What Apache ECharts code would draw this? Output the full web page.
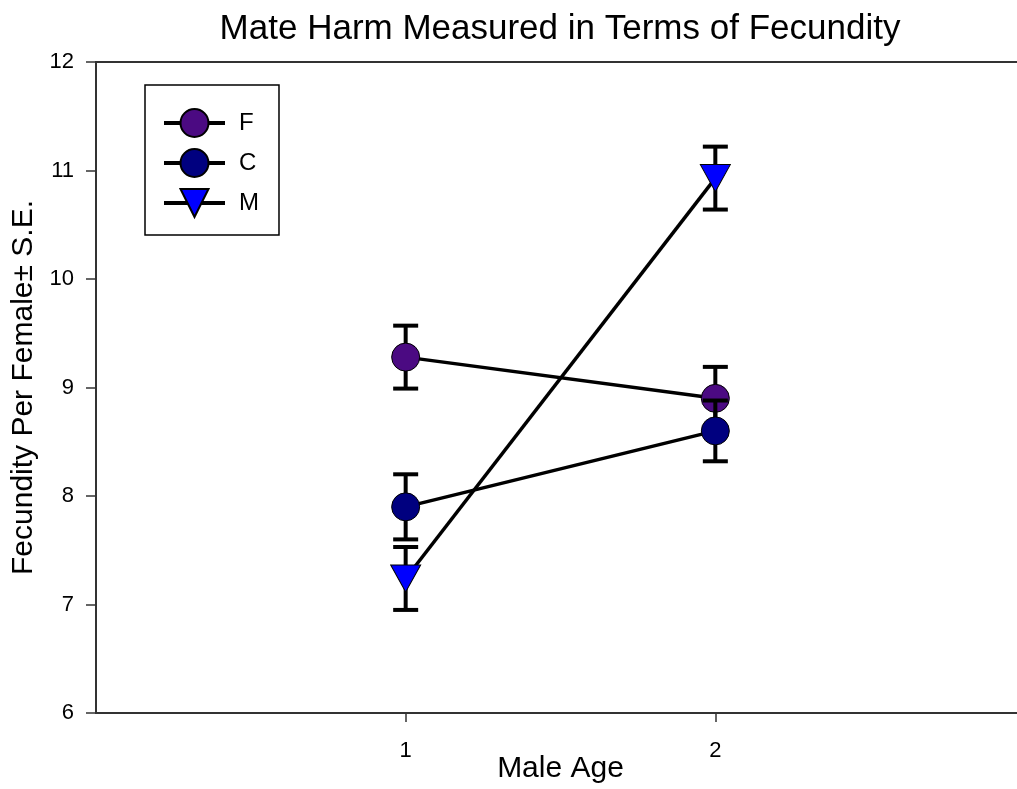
<!DOCTYPE html>
<html>
<head>
<meta charset="utf-8">
<script src="https://cdn.jsdelivr.net/npm/echarts@6/dist/echarts.min.js"></script>
<style>
html,body{margin:0;padding:0;background:#fff;}
#chart{width:1017px;height:789px;}
</style>
</head>
<body>
<div id="chart"></div>
<script>
// ---- data ----
const maleAge = [1, 2];
const groupNames = ['F', 'C', 'M'];
const fMean = [9.28, 8.90];
const fSE = [0.29, 0.29];
const cMean = [7.90, 8.60];
const cSE = [0.30, 0.28];
const mMean = [7.24, 10.93];
const mSE = [0.29, 0.29];
const yTicks = [6, 7, 8, 9, 10, 11, 12];
const xTicks = [1, 2];

const FONT = '"Liberation Sans", Arial, sans-serif';
const colors = {F: '#4B0A82', C: '#00007F', M: '#0000FF'};
const downTriangle = 'path://M0,0 L10,0 L5,9 Z';

function errData(means, ses) {
  return maleAge.map((x, i) => [x, means[i] - ses[i], means[i] + ses[i]]);
}
function lineData(means) {
  return maleAge.map((x, i) => [x, means[i]]);
}
function errSeries(name, means, ses, z) {
  return {
    type: 'custom',
    name: name + ' SE',
    z: z,
    silent: true,
    data: errData(means, ses),
    renderItem: function (params, api) {
      const x = api.value(0);
      const lo = api.coord([x, api.value(1)]);
      const hi = api.coord([x, api.value(2)]);
      const hw = 12.5;
      const st = {stroke: '#000', lineWidth: 4};
      return {
        type: 'group',
        children: [
          {type: 'line', shape: {x1: lo[0], y1: lo[1], x2: hi[0], y2: hi[1]}, style: st},
          {type: 'line', shape: {x1: hi[0] - hw, y1: hi[1], x2: hi[0] + hw, y2: hi[1]}, style: st},
          {type: 'line', shape: {x1: lo[0] - hw, y1: lo[1], x2: lo[0] + hw, y2: lo[1]}, style: st}
        ]
      };
    }
  };
}
function lineSeries(name, means, symbol, size, z) {
  return {
    type: 'line',
    name: name,
    z: z,
    data: lineData(means),
    symbol: symbol,
    symbolSize: size,
    lineStyle: {color: '#000', width: 3.5},
    itemStyle: {color: colors[name], borderColor: '#000', borderWidth: 1},
    emphasis: {disabled: true},
    animation: false
  };
}

const chart = echarts.init(document.getElementById('chart'));
chart.setOption({
  animation: false,
  backgroundColor: '#fff',
  title: {
    text: 'Mate Harm Measured in Terms of Fecundity',
    left: 560,
    top: 12,
    padding: 0,
    textAlign: 'center',
    textStyle: {fontFamily: FONT, fontSize: 35, fontWeight: 'normal', color: '#000'}
  },
  grid: {
    left: 96, right: -8, top: 62, bottom: 76,
    show: true, borderColor: '#333', borderWidth: 2,
    outerBoundsMode: 'none', containLabel: false
  },
  legend: {
    data: groupNames,
    orient: 'vertical',
    left: 145,
    top: 85,
    itemWidth: 61,
    itemHeight: 35,
    itemGap: 0,
    padding: [18, 20, 12, 17],
    borderColor: '#000',
    borderWidth: 1.5,
    backgroundColor: '#fff',
    selectedMode: false,
    lineStyle: {width: 4, color: '#000'},
    textStyle: {fontFamily: FONT, fontSize: 24, color: '#000', padding: [0, 0, 0, 9], lineHeight: 40, height: 40}
  },
  xAxis: {
    type: 'value',
    min: 0, max: 3, interval: 1,
    name: 'Male Age',
    nameLocation: 'middle',
    nameGap: 41,
    nameMoveOverlap: false,
    nameTextStyle: {fontFamily: FONT, fontSize: 30, color: '#000'},
    axisLine: {show: true, lineStyle: {color: '#333', width: 2}},
    axisTick: {show: true, length: 9, customValues: xTicks, lineStyle: {color: '#333', width: 1.5}},
    axisLabel: {customValues: xTicks, fontFamily: FONT, fontSize: 22, color: '#000', margin: 27},
    splitLine: {show: false}
  },
  yAxis: {
    type: 'value',
    min: 6, max: 12, interval: 1,
    name: 'Fecundity Per Female\u00B1 S.E.',
    nameLocation: 'middle',
    nameGap: 57,
    nameMoveOverlap: false,
    nameTextStyle: {fontFamily: FONT, fontSize: 30, color: '#000', padding: [0, 0, 0, 0]},
    axisLine: {show: true, lineStyle: {color: '#333', width: 2}},
    axisTick: {show: true, length: 10, customValues: yTicks, lineStyle: {color: '#333', width: 1.5}},
    axisLabel: {customValues: yTicks, fontFamily: FONT, fontSize: 22, color: '#000', margin: 22},
    splitLine: {show: false}
  },
  series: [
    errSeries('F', fMean, fSE, 2),
    lineSeries('F', fMean, 'circle', 28, 3),
    errSeries('C', cMean, cSE, 4),
    lineSeries('C', cMean, 'circle', 28, 5),
    errSeries('M', mMean, mSE, 6),
    lineSeries('M', mMean, downTriangle, [30, 27], 7)
  ]
});
</script>
</body>
</html>
